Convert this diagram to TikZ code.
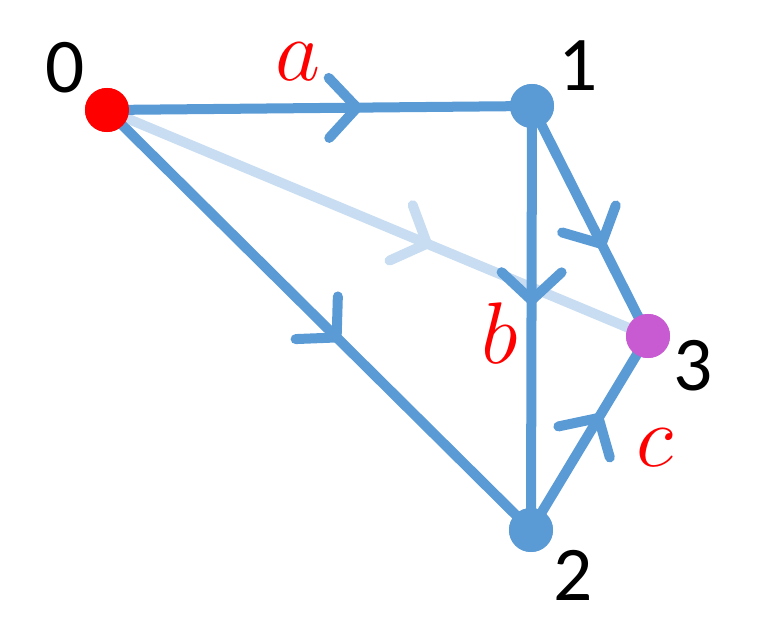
\documentclass[tikz,border=0pt]{standalone}
\usepackage{fontspec}
\setmainfont{Carlito}
\usetikzlibrary{arrows.meta}
\usetikzlibrary{decorations.markings}
\usetikzlibrary{positioning}
\definecolor{edgeblue}{RGB}{91,155,213}
\definecolor{faintblue}{RGB}{200,221,241}
\definecolor{dotpurple}{RGB}{200,90,210}

\tikzset{
	vertex/.style={circle, inner sep=0pt, minimum size=0.44cm},
	edgeline/.style={draw=edgeblue, line width=0.1cm},
	midarrow/.style={postaction={decorate, decoration={markings,
		mark=at position #1 with {\arrow{Straight Barb[length=0.28cm, width=0.6cm, line width=0.1cm, round]}}}}},
	numlabel/.style={font=\fontsize{22}{24}\selectfont},
	edgelabel/.style={text=red, font=\fontsize{30}{32}\selectfont}
}

\begin{document}
\begin{tikzpicture}[x=0.01cm, y=-0.01cm]
	\useasboundingbox (0,0) rectangle (757,624);
	\begin{scope}
		\node[vertex, fill=red] (0) at (107,110) {};
		\node[vertex, fill=edgeblue] (1) at (532,106) {};
		\node[vertex, fill=edgeblue] (2) at (531,530) {};
		\node[vertex, fill=dotpurple] (3) at (648,336) {};
	\end{scope}
	% faint edge behind
	\path[edgeline, draw=faintblue, midarrow=0.6] (0.center) -- (3.center);
	\path[edgeline, midarrow=0.6] (0.center) -- (1.center);
	\path[edgeline, midarrow=0.55] (0.center) -- (2.center);
	\path[edgeline, midarrow=0.47] (1.center) -- (2.center);
	\path[edgeline, midarrow=0.62] (1.center) -- (3.center);
	\path[edgeline, midarrow=0.6] (2.center) -- (3.center);
	% dots on top
	\node[vertex, fill=red] at (0) {};
	\node[vertex, fill=edgeblue] at (1) {};
	\node[vertex, fill=edgeblue] at (2) {};
	\node[vertex, fill=dotpurple] at (3) {};
	% labels
	\node[numlabel] (l0) at (65,68) {0};
	\node[numlabel] (l1) at (578,66) {1};
	\node[numlabel] (l2) at (573,575) {2};
	\node[numlabel] (l3) at (693,366) {3};
	\node[edgelabel] (la) at (298,62) {$a$};
	\node[edgelabel] (lb) at (500,333) {$b$};
	\node[edgelabel] (lc) at (655,448) {$c$};
\end{tikzpicture}
\end{document}
